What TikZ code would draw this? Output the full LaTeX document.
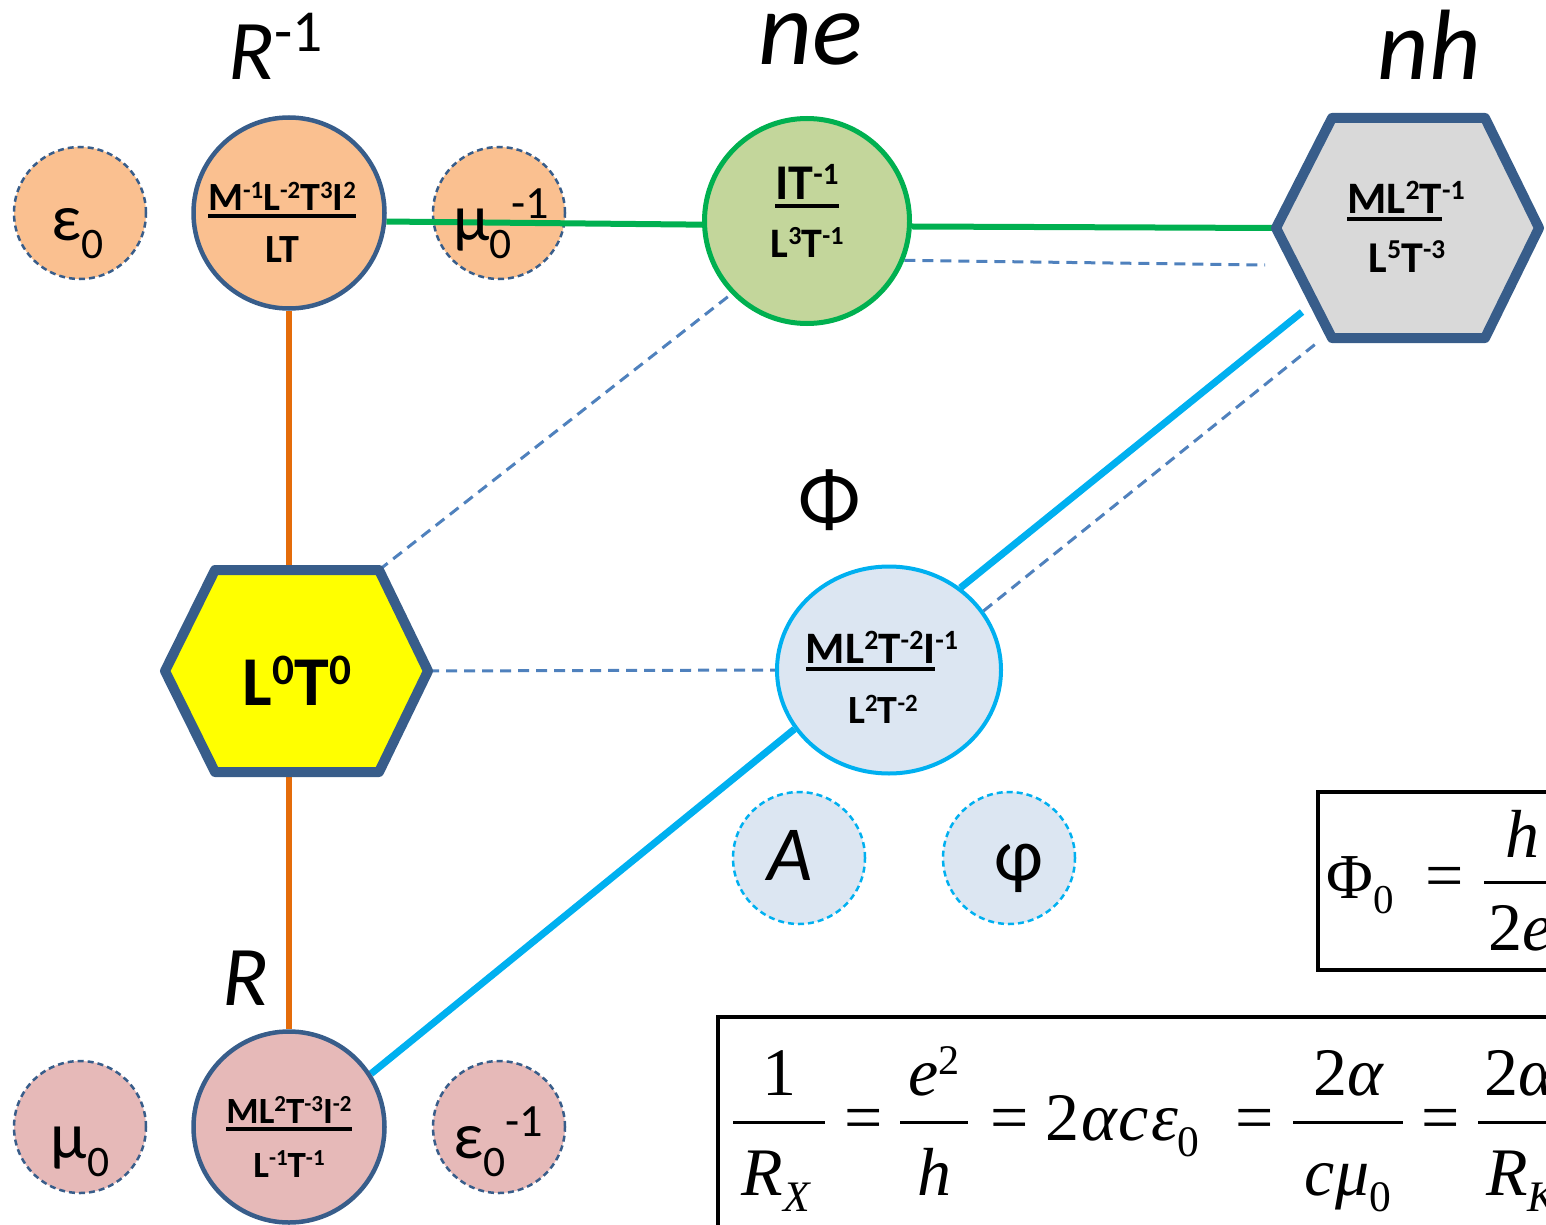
\documentclass[tikz,border=0pt]{standalone}
\usepackage{fontspec}
\setmainfont{Carlito}
\newfontfamily\tnr{Liberation Serif}
\usetikzlibrary{shapes.geometric,calc}
\pgfdeclarelayer{bottom}
\pgfdeclarelayer{back}
\pgfsetlayers{bottom,back,main}
\definecolor{dkblue}{HTML}{385D8A}
\definecolor{peach}{HTML}{FAC090}
\definecolor{negreen}{HTML}{C3D69B}
\definecolor{linegreen}{HTML}{00B050}
\definecolor{hexgrey}{HTML}{D9D9D9}
\definecolor{phiblue}{HTML}{DCE6F2}
\definecolor{cyanl}{HTML}{00B0F0}
\definecolor{pinkr}{HTML}{E6B9B8}
\definecolor{orangel}{HTML}{E46C0A}
\definecolor{dashblue}{HTML}{4F81BD}
\definecolor{hexyellow}{HTML}{FFFF00}
\newcommand\fs[1]{\fontsize{#1}{#1}\selectfont}
\makeatletter
\newcommand\scaledfont[1]{\fontsize{\strip@pt\dimexpr#1\dimexpr\f@size pt\relax\relax}{0}\selectfont}
\newcommand\su[1]{\raisebox{0.30em}{\scaledfont{0.62}#1}}
\newcommand\bsu[1]{\raisebox{0.33em}{\scaledfont{0.70}#1}}
\newcommand\sbs[1]{\raisebox{-0.28em}{\scaledfont{0.66}#1}}
\newcommand\lo[1]{\raisebox{-0.24em}{\scaledfont{0.64}#1}}
\makeatother
\newcommand\ulb[1]{\setbox0=\hbox{#1}\vtop{\box0\kern4pt\hrule height 3.5pt}}
\begin{document}
\begin{tikzpicture}[x=1pt,y=-1pt,
  dimcirc/.style={circle, line width=4.5pt, draw=dkblue, minimum size=191pt, inner sep=0pt},
  smallc/.style={circle, dash pattern=on 6pt off 4pt, line width=2.5pt, draw=dkblue, minimum size=132pt, inner sep=0pt},
  smallcy/.style={smallc, draw=cyanl, fill=phiblue},
  hexline/.style={draw=dkblue, line width=10pt, line join=round},
  dimt/.style={inner sep=0pt, anchor=base},
  lbl/.style={inner sep=0pt, anchor=base},
  dashc/.style={draw=dashblue, line width=3pt, dash pattern=on 11pt off 7pt},
  orangec/.style={draw=orangel, line width=6pt},
  greenc/.style={draw=linegreen, line width=6pt},
  cyanc/.style={draw=cyanl, line width=7pt},
  fbox/.style={draw=black, line width=3.5pt, inner sep=0pt, anchor=north west},
  tnf/.style={inner sep=0pt, anchor=base, font=\tnr\fs{68}},
  fbar/.style={draw=black, line width=3pt}]
\useasboundingbox (0,0) rectangle (1546,1225);
\clip (0,0) rectangle (1546,1225);

% small dashed circles
\begin{pgfonlayer}{bottom}
\node[smallc, fill=peach] (eps0) at (80,213) {};
\node[smallc, fill=peach] (muinv) at (499,213) {};
\node[smallc, fill=pinkr] (mu0) at (80,1127) {};
\node[smallc, fill=pinkr] (epsinv) at (499,1127) {};
\node[smallcy] (Acirc) at (799,858) {};
\node[smallcy] (phic) at (1009,858) {};
\end{pgfonlayer}

% main shapes
\node[dimcirc, fill=peach] (R1) at (289,213) {};
\node[circle, draw=linegreen, line width=5pt, fill=negreen, minimum size=205pt, inner sep=0pt] (ne) at (807,221) {};
\node[ellipse, draw=cyanl, line width=4pt, fill=phiblue, minimum width=224pt, minimum height=207pt, inner sep=0pt] (Phi) at (889,670) {};
\node[dimcirc, fill=pinkr] (R) at (289,1127) {};

% hexagons
\coordinate (L0W) at (165,671);
\coordinate (L0NW) at (215,570);
\coordinate (L0NE) at (379,570);
\coordinate (L0E) at (428,671);
\coordinate (L0SE) at (379,772);
\coordinate (L0SW) at (215,772);
\draw[hexline, fill=hexyellow] (L0W)--(L0NW)--(L0NE)--(L0E)--(L0SE)--(L0SW)--cycle;
\coordinate (nhW) at (1276,228);
\coordinate (nhNW) at (1332,118);
\coordinate (nhNE) at (1485,118);
\coordinate (nhE) at (1539,228);
\coordinate (nhSE) at (1485,338);
\coordinate (nhSW) at (1332,338);
\draw[hexline, fill=hexgrey] (nhW)--(nhNW)--(nhNE)--(nhE)--(nhSE)--(nhSW)--cycle;
\coordinate (nhA) at (1265,265);
\coordinate (nhB) at (1302,312);
\coordinate (nhC) at (1318,342);

% connectors
\begin{pgfonlayer}{back}
\draw[orangec] (R1.south) -- (R1.south |- L0NW);
\draw[orangec] (L0SW -| R.north) -- (R.north);
\draw[greenc] (R1.-5) -- (ne.182);
\draw[greenc] (ne.-3) -- (nhW);
\draw[dashc] (ne.-22) -- (nhA);
\draw[dashc] (L0NE) -- (ne.224);
\draw[dashc] (L0E) -- (Phi.west);
\draw[cyanc] (Phi.49) -- (nhB);
\draw[dashc] (Phi.32) -- (nhC);
\draw[cyanc] (R.33) -- (Phi.212.5);
\end{pgfonlayer}

% texts in shapes
\node[dimt, font=\bfseries\fs{40}] (R1a) at (282,210) {\ulb{M\su{-1}L\su{-2}T\su{3}I\su{2}}};
\node[dimt, font=\bfseries\fs{40}] (R1b) at (282,262) {LT};
\node[dimt, font=\bfseries\fs{50}] (nea) at (807,200) {\ulb{IT\su{-1}}};
\node[dimt, font=\bfseries\fs{42}] (neb) at (807,257) {L\su{3}T\su{-1}};
\node[dimt, font=\bfseries\fs{45}] (nha) at (1406,213) {\ulb{ML\su{2}T}\su{-1}};
\node[dimt, font=\bfseries\fs{44}] (nhb) at (1407,272) {L\su{5}T\su{-3}};
\node[dimt, font=\bfseries\fs{45}] (Phia) at (882,663) {\ulb{ML\su{2}T\su{-2}I}\su{-1}};
\node[dimt, font=\bfseries\fs{40}] (Phib) at (883,723) {L\su{2}T\su{-2}};
\node[dimt, font=\bfseries\fs{37}] (Ra) at (289,1123) {\ulb{ML\su{2}T\su{-3}I\su{-2}}};
\node[dimt, font=\bfseries\fs{37}] (Rb) at (289,1177) {L\su{-1}T\su{-1}};
\node[dimt, font=\bfseries\fs{70}] (L0) at (297,705) {L\su{0}T\su{0}};

% small circle labels
\node[lbl, font=\fs{66}] (eps0t) at (78,240) {ε\sbs{0}};
\node[lbl, font=\fs{66}, anchor=base west] (muinvt) at (453,240) {μ\sbs{0}\bsu{-1}};
\node[lbl, font=\fs{66}] (mu0t) at (80,1158) {μ\sbs{0}};
\node[lbl, font=\fs{66}, anchor=base west] (epsinvt) at (453,1158) {ε\sbs{0}\bsu{-1}};
\node[lbl, font=\itshape\fs{78}] (At) at (790,880) {A};
\node[lbl, font=\fs{75}] (phit) at (1019,880) {φ};

% big labels
\node[lbl, font=\itshape\fs{85}, anchor=base west] (lblR1) at (228,80) {R\bsu{\upshape -1}};
\node[lbl, font=\itshape\fs{105}] (lblne) at (811,65) {ne};
\node[lbl, font=\itshape\fs{100}] (lblnh) at (1429,80) {nh};
\node[inner sep=0pt, font=\fs{82}] (lblPhi) at (830,500) {Φ};
\node[lbl, font=\itshape\fs{85}, anchor=base west] (lblR) at (222,1005) {R};

% formula boxes
\node[fbox, minimum width=300pt, minimum height=178pt] (box1) at (1316,790) {};
\node[fbox, minimum width=900pt, minimum height=250pt] (box2) at (716,1015) {};

% Phi_0 = h / 2e
\node[tnf, anchor=base west] (f1) at (1326,898) {\fs{64}Φ\lo{0}};
\node[tnf] (f2) at (1445,898) {=};
\node[tnf] (f3n) at (1522,857) {\itshape h};
\node[tnf, anchor=base west] (f3d) at (1488,950) {2\itshape e};
\draw[fbar] (1484,882) -- (1570,882);

% 1/R_X = e^2/h = 2 alpha c eps0 = 2alpha/(c mu0) = 2alpha/R_K
\node[tnf] (g1n) at (779,1095) {1};
\node[tnf] (g1d) at (776,1195) {\itshape R\lo{X}};
\draw[fbar] (733,1122) -- (825,1122);
\node[tnf] (g2) at (864,1140) {=};
\node[tnf] (g3n) at (934,1095) {\itshape e\su{\upshape 2}};
\node[tnf] (g3d) at (934,1195) {\itshape h};
\draw[fbar] (900,1122) -- (968,1122);
\node[tnf] (g4) at (1010,1140) {=};
\node[tnf, anchor=base west] (g5) at (1045,1140) {2\kern2pt{\itshape α\kern2pt c\kern2pt ε}\lo{0}};
\node[tnf] (g6) at (1255,1140) {=};
\node[tnf] (g7n) at (1348,1095) {2\itshape α};
\node[tnf] (g7d) at (1348,1195) {\itshape cμ\lo{\upshape 0}};
\draw[fbar] (1293,1122) -- (1403,1122);
\node[tnf] (g8) at (1441,1140) {=};
\node[tnf, anchor=base west] (g9n) at (1484,1095) {2\itshape α};
\node[tnf, anchor=base west] (g9d) at (1486,1195) {\itshape R\lo{K}};
\draw[fbar] (1478,1122) -- (1570,1122);
\end{tikzpicture}
\end{document}
